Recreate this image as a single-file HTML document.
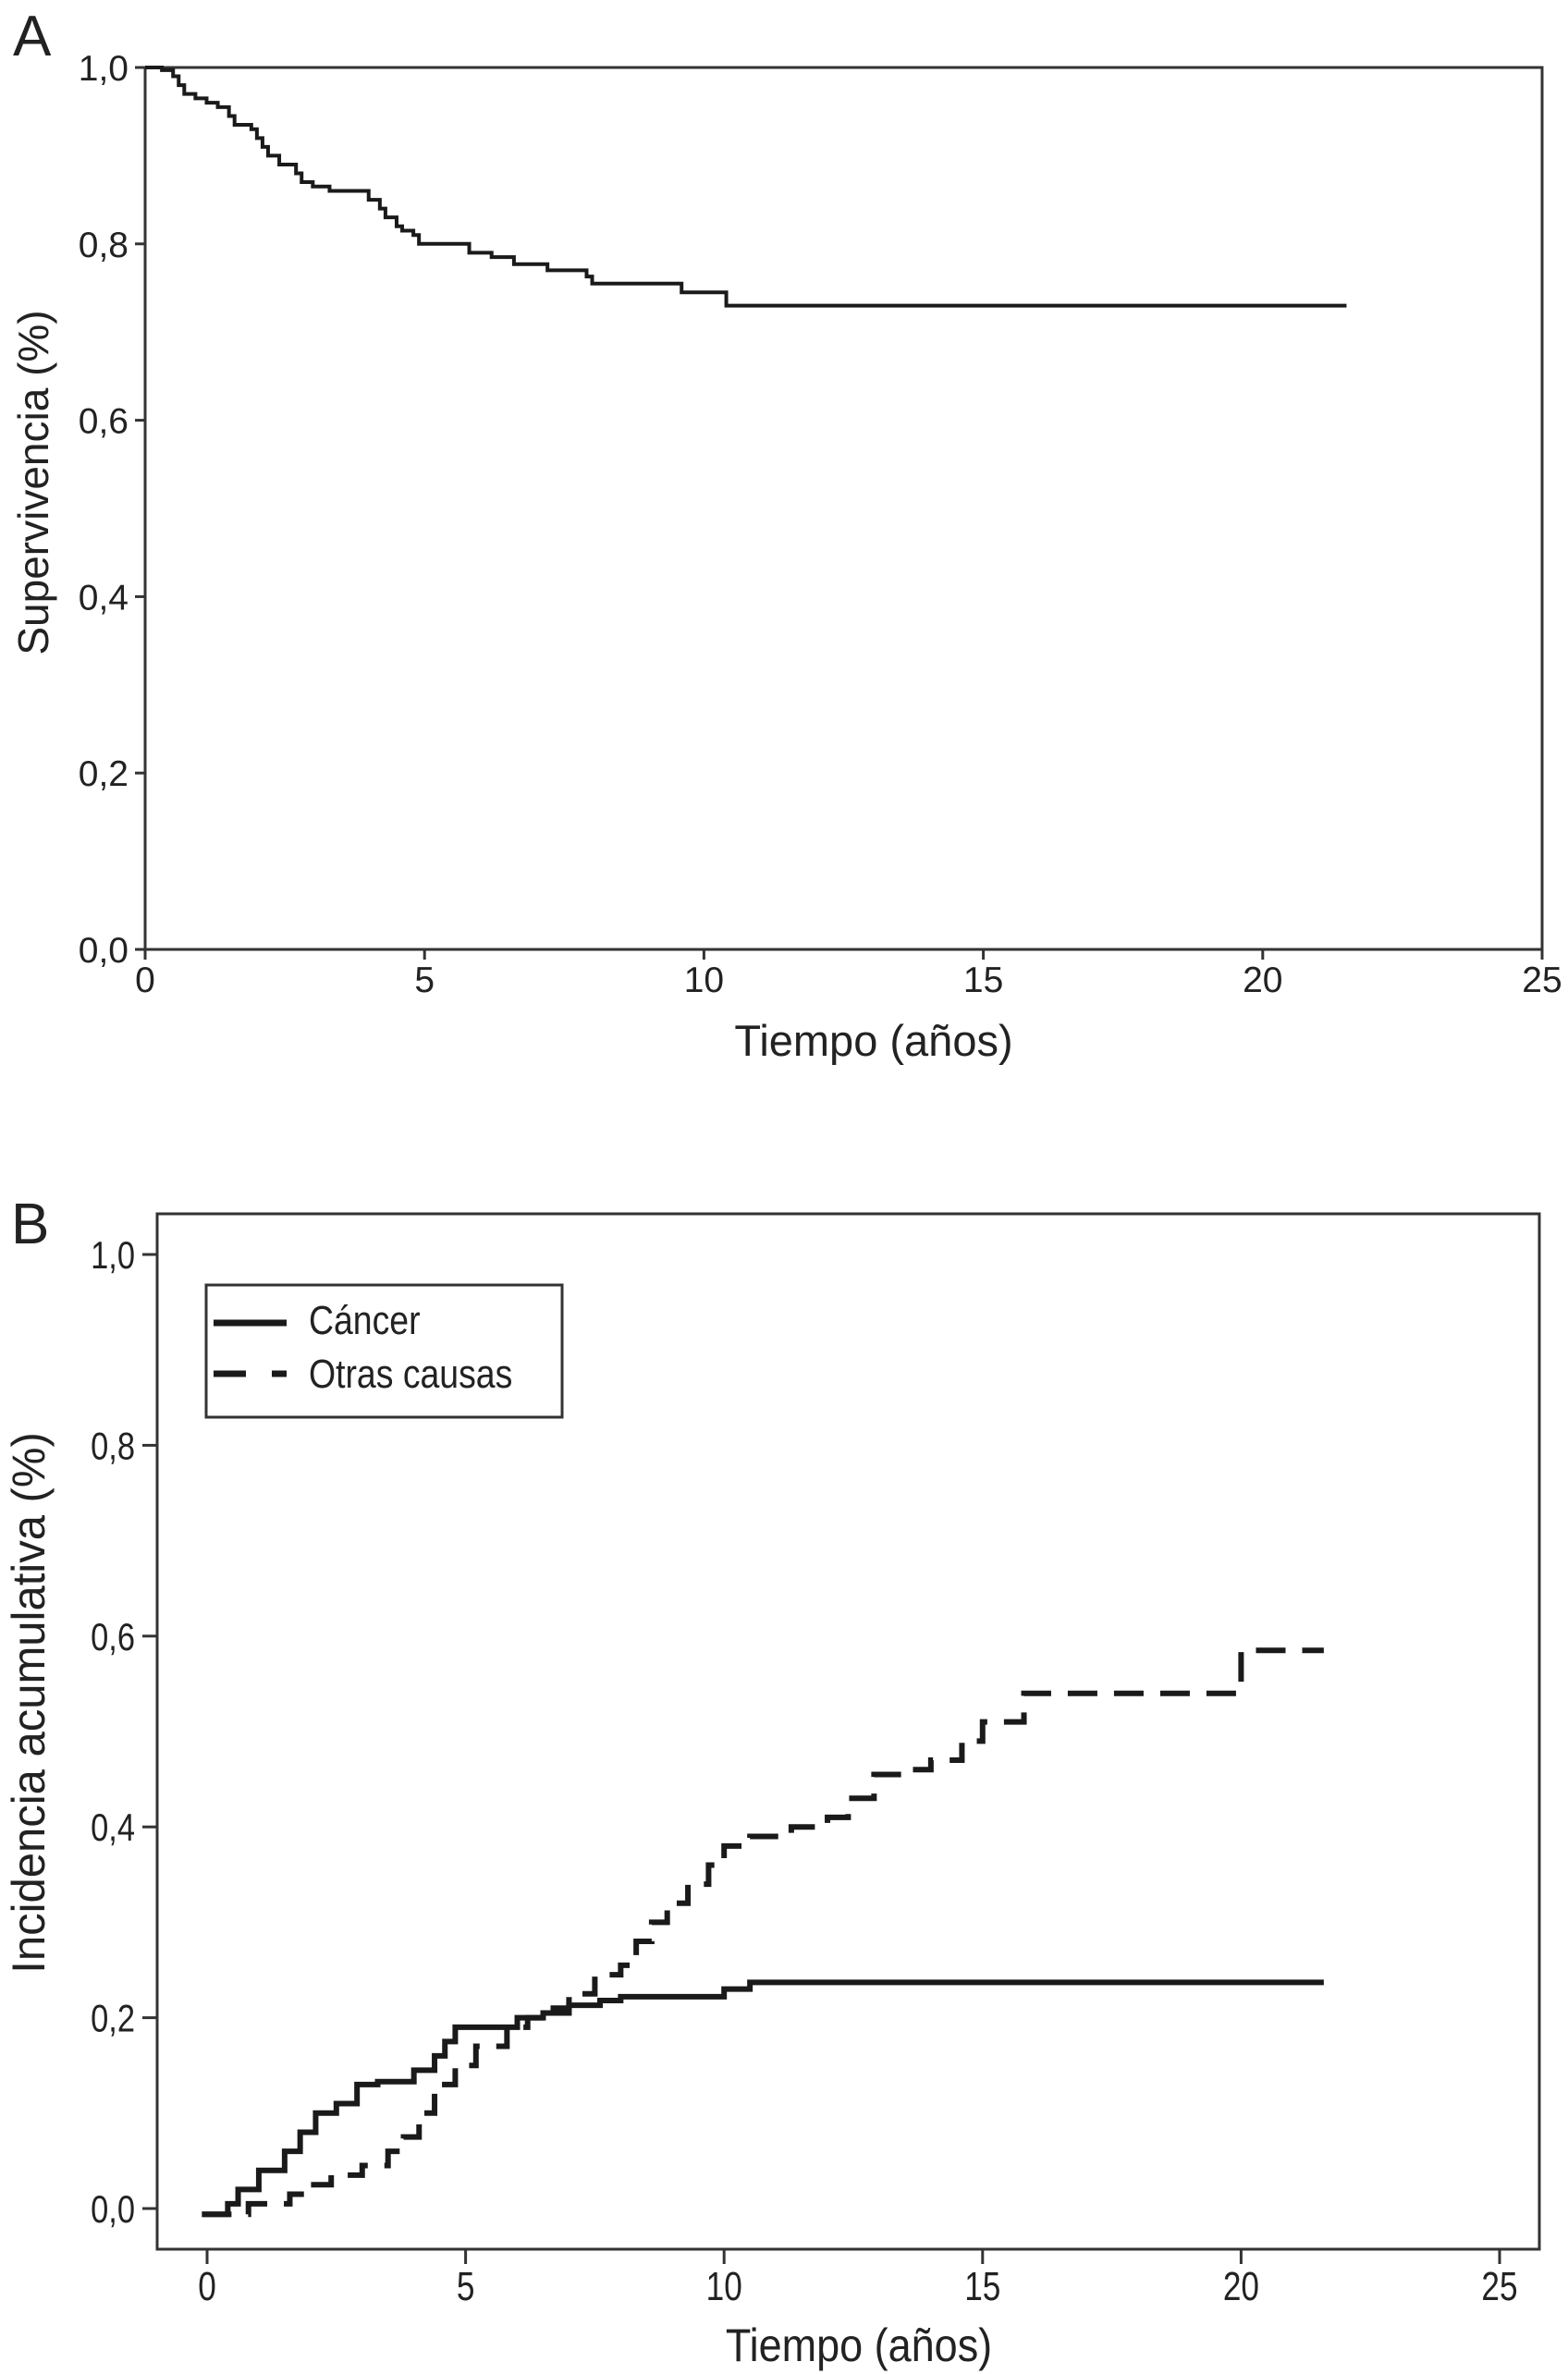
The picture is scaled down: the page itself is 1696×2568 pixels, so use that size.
<!DOCTYPE html>
<html><head><meta charset="utf-8"><style>
html,body{margin:0;padding:0;background:#fff}
svg{display:block}
text{font-family:"Liberation Sans",sans-serif;fill:#222}
</style></head><body>
<svg id="chart" width="1696" height="2568" viewBox="0 0 1696 2568" xmlns="http://www.w3.org/2000/svg">
<g id="pa"></g>
<g id="pb"></g>
</svg>
<script>
// Panel A data
const aTimes=[0,0.3,0.5,0.6,0.7,0.9,1.1,1.3,1.5,1.6,1.9,2.0,2.1,2.2,2.4,2.7,2.8,3.0,3.3,4.0,4.2,4.3,4.5,4.6,4.8,4.9,5.8,6.2,6.6,7.2,7.9,8.0,9.6,10.4,21.5];
const aSurv=[1.0,0.997,0.99,0.98,0.97,0.965,0.96,0.955,0.945,0.935,0.93,0.92,0.91,0.90,0.89,0.88,0.87,0.865,0.86,0.85,0.84,0.83,0.82,0.815,0.81,0.80,0.79,0.785,0.777,0.77,0.763,0.755,0.745,0.73,0.73];
const xTicks=[0,5,10,15,20,25];
const aYTicks=[0,0.2,0.4,0.6,0.8,1.0];
const yTickLabels=["0,0","0,2","0,4","0,6","0,8","1,0"];
// Panel B data
const cTimes=[-0.1,0.4,0.6,1.0,1.5,1.8,2.1,2.5,2.9,3.3,4.0,4.4,4.6,4.8,6.0,6.5,7.0,7.6,8.0,10.0,10.5,21.6];
const cVals=[-0.006,0.005,0.02,0.04,0.06,0.08,0.10,0.11,0.13,0.133,0.145,0.16,0.175,0.19,0.2,0.205,0.213,0.218,0.222,0.23,0.237,0.237];
const oTimes=[-0.1,0.8,1.6,2.0,2.4,3.0,3.5,3.8,4.1,4.4,4.8,5.2,5.8,6.2,6.6,7.0,7.5,8.0,8.3,8.6,8.9,9.3,9.7,10.0,10.5,11.3,12.0,12.4,12.9,13.6,14.0,14.6,15.0,15.8,20.0,21.6];
const oVals=[-0.006,0.005,0.015,0.025,0.035,0.045,0.06,0.075,0.1,0.13,0.15,0.17,0.19,0.2,0.21,0.225,0.245,0.255,0.28,0.30,0.32,0.34,0.36,0.38,0.39,0.40,0.41,0.43,0.455,0.46,0.47,0.49,0.51,0.54,0.585,0.585];

const NS="http://www.w3.org/2000/svg";
function mk(parent,tag,attrs,txt){const e=document.createElementNS(NS,tag);for(const k in attrs)e.setAttribute(k,attrs[k]);if(txt!==undefined)e.textContent=txt;parent.appendChild(e);return e;}
function stepPath(ts,vs,sx,sy){let d="M"+sx(ts[0])+","+sy(vs[0]);for(let i=1;i<ts.length;i++){d+=" H"+sx(ts[i])+" V"+sy(vs[i]);}return d;}

// ---- Panel A
const pa=document.getElementById('pa');
const axL=157,axR=1668,axT=73,axB=1027;
const ax=t=>axL+(axR-axL)*t/25, ay=v=>axB-(axB-axT)*v;
let t=mk(pa,'text',{x:14,y:60,'font-size':62});t.textContent='A';


let r=mk(pa,'rect',{x:axL,y:axT,width:axR-axL,height:axB-axT,fill:'none',stroke:'#333','stroke-width':3});


aYTicks.forEach((v,i)=>{mk(pa,'line',{x1:axL-11,x2:axL,y1:ay(v),y2:ay(v),stroke:'#333','stroke-width':3});
 const l=mk(pa,'text',{x:axL-18,y:ay(v)+14,'font-size':39,'text-anchor':'end'},yTickLabels[i]);
 
 });
xTicks.forEach(v=>{mk(pa,'line',{x1:ax(v),x2:ax(v),y1:axB,y2:axB+11,stroke:'#333','stroke-width':3});
 const l=mk(pa,'text',{x:ax(v),y:1073,'font-size':39,'text-anchor':'middle'},String(v));
 
 });
t=mk(pa,'text',{x:945,y:1142,'font-size':47,'text-anchor':'middle'},'Tiempo (años)');


t=mk(pa,'text',{x:0,y:0,'font-size':46,'text-anchor':'middle',transform:'translate(52,522) rotate(-90)'},'Supervivencia (%)');


let p=mk(pa,'path',{d:stepPath(aTimes,aSurv,ax,ay),fill:'none',stroke:'#1a1a1a','stroke-width':4});



// ---- Panel B
const pb=document.getElementById('pb');
const bL=170,bR=1665,bT=1313,bB=2433;
const bx=v=>224+(1622-224)*v/25, by=v=>2389-(2389-1357)*v;
t=mk(pb,'text',{x:12,y:1345,'font-size':62},'B');


r=mk(pb,'rect',{x:bL,y:bT,width:bR-bL,height:bB-bT,fill:'none',stroke:'#333','stroke-width':3});


aYTicks.forEach((v,i)=>{mk(pb,'line',{x1:bL-16,x2:bL,y1:by(v),y2:by(v),stroke:'#333','stroke-width':3});
 const l=mk(pb,'text',{x:0,y:0,'font-size':42,'text-anchor':'end',transform:`translate(${bL-24},${by(v)+15}) scale(0.82,1)`},yTickLabels[i]);
 
 });
xTicks.forEach(v=>{mk(pb,'line',{x1:bx(v),x2:bx(v),y1:bB,y2:bB+16,stroke:'#333','stroke-width':3});
 const l=mk(pb,'text',{x:0,y:0,'font-size':44,'text-anchor':'middle',transform:`translate(${bx(v)},2488) scale(0.8,1)`},String(v));
 
 });
t=mk(pb,'text',{x:0,y:0,'font-size':50,'text-anchor':'middle',transform:'translate(929,2554) scale(0.9,1)'},'Tiempo (años)');


t=mk(pb,'text',{x:0,y:0,'font-size':50,'text-anchor':'middle',transform:'translate(48,1842) rotate(-90) scale(0.98,1)'},'Incidencia acumulativa (%)');


p=mk(pb,'path',{d:stepPath(cTimes,cVals,bx,by),fill:'none',stroke:'#1a1a1a','stroke-width':6});


p=mk(pb,'path',{d:stepPath(oTimes,oVals,bx,by),fill:'none',stroke:'#1a1a1a','stroke-width':6,'stroke-dasharray':'32 18'});


// legend
const lg=mk(pb,'g',{});


mk(lg,'rect',{x:223,y:1390,width:385,height:143,fill:'#fff',stroke:'#333','stroke-width':3});
mk(lg,'line',{x1:231,x2:310,y1:1431,y2:1431,stroke:'#1a1a1a','stroke-width':7});
mk(lg,'line',{x1:231,x2:266,y1:1486,y2:1486,stroke:'#1a1a1a','stroke-width':7});
mk(lg,'line',{x1:294,x2:310,y1:1486,y2:1486,stroke:'#1a1a1a','stroke-width':7});
t=mk(lg,'text',{x:0,y:0,'font-size':44,transform:'translate(334,1443) scale(0.85,1)'},'Cáncer');


t=mk(lg,'text',{x:0,y:0,'font-size':44,transform:'translate(334,1501) scale(0.85,1)'},'Otras causas');


</script>
</body></html>
